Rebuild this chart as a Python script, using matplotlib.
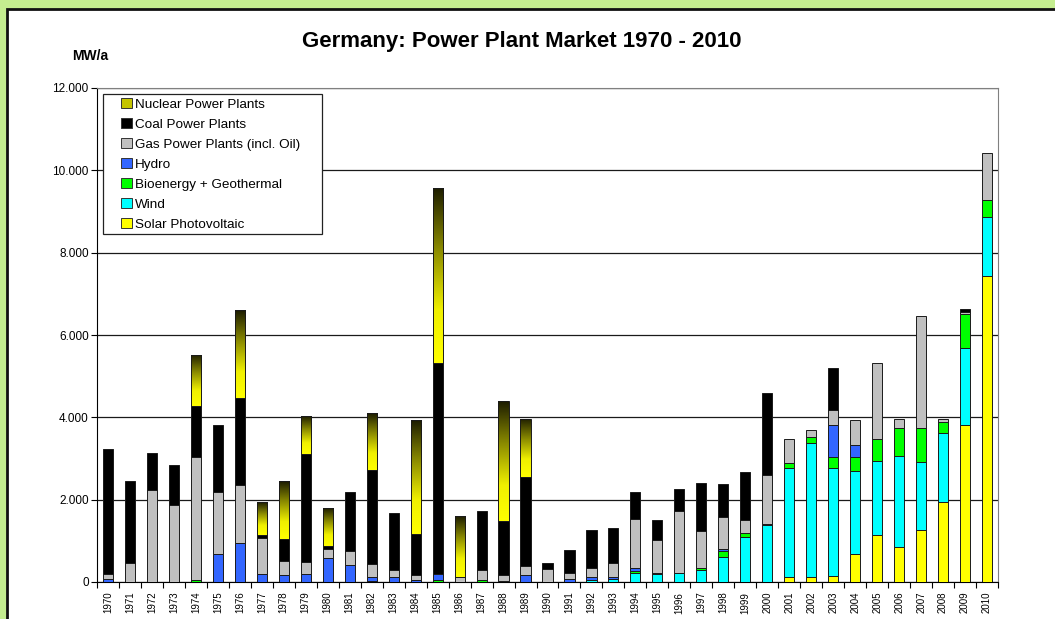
import matplotlib
matplotlib.use("Agg")
import matplotlib.pyplot as plt
import numpy as np
from matplotlib.colors import LinearSegmentedColormap
from matplotlib.patches import Rectangle, Patch

plt.rcParams['font.family'] = ['Liberation Sans', 'DejaVu Sans']

years = [str(y) for y in range(1970, 2011)]

# MW per year
solar = [0, 0, 0, 0, 0, 0, 0, 0, 0, 0, 0, 0, 0, 0, 0, 0, 0, 0, 0, 0,
         0, 0, 0, 0, 0, 0, 0, 0, 0, 0, 0, 120, 130, 140, 680, 1150, 850, 1270, 1950, 3810, 7440]
wind = [0, 0, 0, 0, 0, 0, 0, 0, 0, 0, 0, 0, 0, 0, 0, 0, 0, 0, 0, 0,
        0, 0, 40, 70, 210, 200, 210, 280, 600, 1090, 1380, 2660, 3240, 2640, 2020, 1800, 2220, 1650, 1670, 1870, 1430]
bio = [0, 0, 0, 0, 40, 0, 0, 0, 0, 0, 0, 0, 30, 0, 0, 50, 0, 60, 0, 0,
       0, 0, 0, 0, 50, 0, 0, 60, 150, 100, 0, 110, 160, 250, 340, 530, 660, 810, 270, 820, 410]
hydro = [70, 0, 0, 0, 0, 680, 940, 200, 160, 190, 590, 410, 100, 120, 60, 140, 0, 0, 30, 180,
         0, 70, 90, 60, 80, 10, 0, 0, 50, 0, 30, 0, 0, 790, 280, 0, 0, 0, 0, 0, 0]
gas = [120, 450, 2240, 1880, 2990, 1500, 1420, 880, 360, 300, 220, 340, 300, 180, 110, 0, 110, 230, 140, 210,
       310, 140, 200, 320, 1200, 800, 1520, 900, 780, 310, 1190, 590, 160, 350, 620, 1830, 220, 2730, 80, 60, 1150]
coal = [3050, 2000, 900, 960, 1240, 1630, 2110, 60, 530, 2630, 70, 1430, 2300, 1370, 1000, 5130, 20, 1440, 1320, 2170,
        160, 560, 930, 850, 640, 490, 530, 1170, 810, 1170, 1990, 0, 0, 1030, 0, 0, 0, 0, 0, 70, 0]
nuclear = [0, 0, 0, 0, 1250, 0, 2130, 800, 1400, 910, 910, 0, 1370, 0, 2760, 4260, 1480, 0, 2900, 1410,
           0, 0, 0, 0, 0, 0, 0, 0, 0, 0, 0, 0, 0, 0, 0, 0, 0, 0, 0, 0, 0]

W, H = 1055, 619
fig = plt.figure(figsize=(W / 100, H / 100), dpi=100)
fig.patch.set_facecolor('#c4ed8f')
fig.patches.append(Rectangle((7 / W, -0.1), 1.2, 1 - 9 / H + 0.1, transform=fig.transFigure,
                             facecolor='white', edgecolor='#111111', lw=2, zorder=-10))

ax = fig.add_axes([97 / W, 1 - 582 / H, (998 - 97) / W, (582 - 88) / H])
ax.set_facecolor('white')

x = np.arange(len(years))
bw = 0.46
bottom = np.zeros(len(years))
series = [(solar, '#ffff00'), (wind, '#00ffff'), (bio, '#00ff00'),
          (hydro, '#3366ff'), (gas, '#c0c0c0'), (coal, '#000000')]
for vals, col in series:
    v = np.array(vals, dtype=float)
    m = v > 0
    ax.bar(x[m], v[m], bw, bottom=bottom[m], color=col, edgecolor='#1a1a1a', lw=0.7, zorder=3)
    bottom += v

# nuclear: yellow at the bottom fading to dark olive at the top
cmap = LinearSegmentedColormap.from_list('nuc', [(0, '#ffff00'), (0.3, '#f0f000'), (0.65, '#8a8a00'), (1, '#1c1c00')])
grad = np.linspace(0, 1, 256).reshape(-1, 1)
nv = np.array(nuclear, dtype=float)
m = nv > 0
bars = ax.bar(x[m], nv[m], bw, bottom=bottom[m], facecolor='none', edgecolor='#1a1a1a', lw=0.7, zorder=4)
for b in bars:
    x0, y0 = b.get_x(), b.get_y()
    im = ax.imshow(grad, extent=[x0, x0 + b.get_width(), y0, y0 + b.get_height()], origin='lower',
                   aspect='auto', cmap=cmap, zorder=3.5, interpolation='bilinear')
    im.set_clip_path(b)

ax.set_xlim(-0.5, len(years) - 0.5)
ax.set_ylim(0, 12000)
ax.set_yticks(range(0, 12001, 2000))
ax.set_yticklabels([f'{v:,}'.replace(',', '.') for v in range(0, 12001, 2000)], fontsize=8.5)
ax.yaxis.grid(True, color='#1a1a1a', lw=0.9)
ax.set_axisbelow(True)
ax.tick_params(axis='y', length=4, width=0.8, pad=2, direction='out')

ax.set_xticks(x)
ax.set_xticklabels(years, rotation=90, fontsize=7)
ax.set_xticks(np.arange(-0.5, len(years), 1), minor=True)
ax.tick_params(axis='x', which='major', length=0, pad=7)
ax.tick_params(axis='x', which='minor', length=4, width=0.8, direction='out')

for s in ['top', 'right']:
    ax.spines[s].set_color('#808080')
ax.spines['left'].set_color('black')
ax.spines['bottom'].set_color('black')

# legend: frame drawn separately so the padding matches
fig.add_artist(Rectangle((103 / W, 1 - 234 / H), (322 - 103) / W, (234 - 94) / H, transform=fig.transFigure,
                         facecolor='white', edgecolor='#222222', lw=0.9, zorder=5))
ec = '#333333'
handles = [Patch(facecolor='#c4c400', edgecolor=ec, lw=0.7, label='Nuclear Power Plants'),
           Patch(facecolor='#000000', edgecolor=ec, lw=0.7, label='Coal Power Plants'),
           Patch(facecolor='#c0c0c0', edgecolor=ec, lw=0.7, label='Gas Power Plants (incl. Oil)'),
           Patch(facecolor='#3366ff', edgecolor=ec, lw=0.7, label='Hydro'),
           Patch(facecolor='#00ff00', edgecolor=ec, lw=0.7, label='Bioenergy + Geothermal'),
           Patch(facecolor='#00ffff', edgecolor=ec, lw=0.7, label='Wind'),
           Patch(facecolor='#ffff00', edgecolor=ec, lw=0.7, label='Solar Photovoltaic')]
leg = fig.legend(handles=handles, loc='upper left', bbox_to_anchor=(121 / W, 1 - 98 / H),
                 fontsize=9.7, frameon=False, handlelength=0.8, handleheight=0.8,
                 handletextpad=0.25, labelspacing=0.53, borderpad=0, borderaxespad=0)
leg.set_zorder(6)

fig.text(522 / W, 1 - 42 / H, 'Germany: Power Plant Market 1970 - 2010', ha='center', va='center',
         fontsize=16, fontweight='bold')
fig.text(90 / W, 1 - 56 / H, 'MW/a', ha='center', va='center', fontsize=10, fontweight='bold')

fig.savefig('out.png', dpi=100, facecolor=fig.get_facecolor())
